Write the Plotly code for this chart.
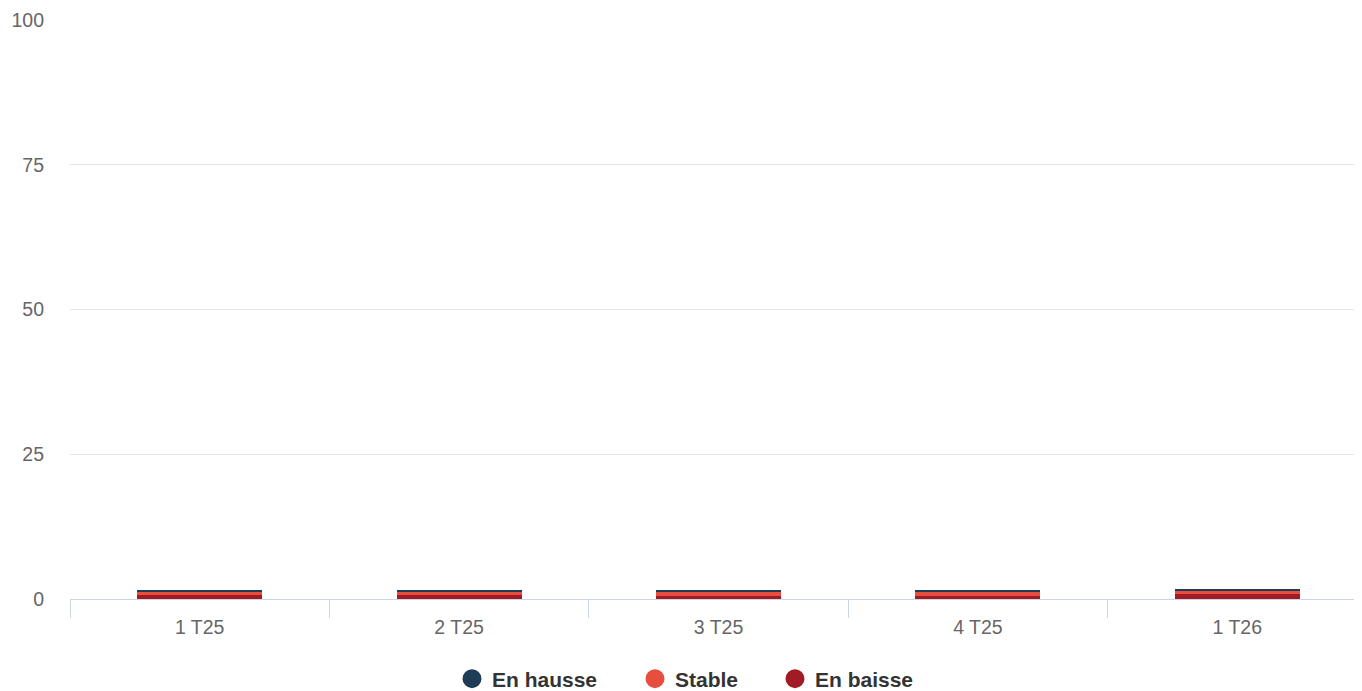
import plotly.graph_objects as go

categories = ["1 T25", "2 T25", "3 T25", "4 T25", "1 T26"]
en_hausse = [0.2, 0.2, 0.25, 0.35, 0.2]
stable = [0.6, 0.6, 0.75, 0.7, 0.6]
en_baisse = [0.75, 0.75, 0.55, 0.5, 0.8]
y_ticks = [0, 25, 50, 75, 100]

colors = {"En hausse": "#1f3c57", "Stable": "#e84e3e", "En baisse": "#a11a26"}

# page body has an 8px margin: size the figure so it fills the 1362x691 window
W, H = 1359, 683

fig = go.Figure()
# stacking order: En baisse at bottom, En hausse on top
for name, vals in [("En baisse", en_baisse), ("Stable", stable), ("En hausse", en_hausse)]:
    fig.add_trace(go.Bar(x=categories, y=vals, name=name, marker_color=colors[name],
                         marker_line_width=0, showlegend=False))

legend_x = {"En hausse": 444, "Stable": 627, "En baisse": 767}
legend_ids = {"En hausse": "legend", "Stable": "legend2", "En baisse": "legend3"}
for name in ["En hausse", "Stable", "En baisse"]:
    fig.add_trace(go.Scatter(x=[None], y=[None], mode="markers", name=name,
                             legend=legend_ids[name],
                             marker=dict(symbol="circle", size=22, color=colors[name],
                                         line=dict(color=colors[name], width=3))))

leg_common = dict(orientation="h", xref="container", yref="container",
                  xanchor="left", yanchor="middle", y=(H - 671) / H,
                  font=dict(size=21, color="#333333", weight="bold"),
                  bgcolor="rgba(0,0,0,0)")

layout_legends = {}
for name, lid in legend_ids.items():
    layout_legends[lid] = dict(leg_common, x=legend_x[name] / W)

fig.update_layout(
    autosize=False,
    barmode="stack",
    bargap=0.518,
    width=W, height=H,
    margin=dict(l=62, r=0, t=12, b=92, autoexpand=False),
    plot_bgcolor="white", paper_bgcolor="white",
    font=dict(family="Liberation Sans, Arial, sans-serif", size=19.5, color="#666666"),
    xaxis=dict(type="category", showline=True, linecolor="#ccd6eb", linewidth=1,
               ticks="outside", tickson="boundaries", ticklen=18, tickcolor="#ccd6eb",
               ticklabelstandoff=11, automargin=False,
               tickfont=dict(size=19.5, color="#666666"), showgrid=False, zeroline=False),
    yaxis=dict(range=[0, 100], tickvals=y_ticks, showgrid=True, gridcolor="#e6e6e6",
               zeroline=False, showline=False, ticklabelstandoff=25, automargin=False,
               tickfont=dict(size=19.5, color="#666666")),
    **layout_legends,
)
fig.write_html("out.html", config={"responsive": False})
